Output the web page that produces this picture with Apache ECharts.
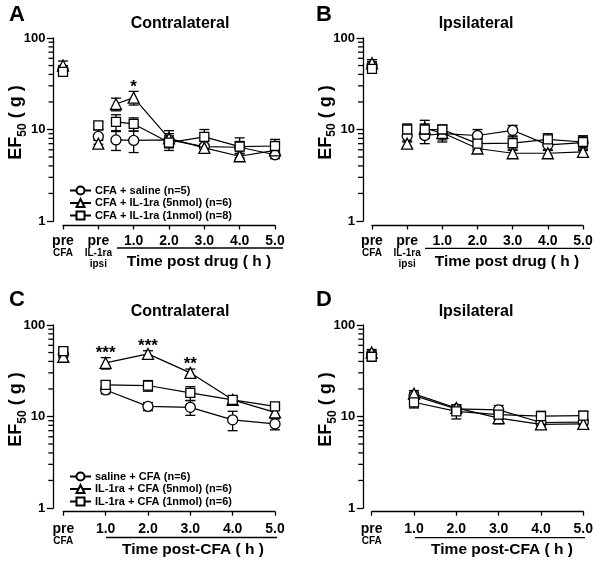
<!DOCTYPE html>
<html><head><meta charset="utf-8">
<script src="https://cdn.jsdelivr.net/npm/echarts@6/dist/echarts.min.js"></script>
<style>html,body{margin:0;padding:0;background:#fff}#c{width:600px;height:563px}</style>
</head><body><div id="c"></div>
<script>
// ================= DATA =================
// Panels A/B x positions: pre CFA = -1, pre IL-1ra ipsi = 0, then hours post drug
const xPosAB = [-1, 0, 0.5, 1, 2, 3, 4, 5];
// Panels C/D x positions: pre CFA = 0, then hours post CFA
const xPosCD = [0, 1, 2, 3, 4, 5];

const xTicksAB = [-1, 0, 1, 2, 3, 4, 5];
const xTickTextAB = ['pre\nCFA', 'pre\nIL-1ra\nipsi', '1.0', '2.0', '3.0', '4.0', '5.0'];
const xTicksCD = [0, 1, 2, 3, 4, 5];
const xTickTextCD = ['pre\nCFA', '1.0', '2.0', '3.0', '4.0', '5.0'];

const yMajorTicks = [1, 10, 100];
const yMinorTicks = [2, 3, 4, 5, 6, 7, 8, 9, 20, 30, 40, 50, 60, 70, 80, 90];

const namesAB = ['CFA + saline (n=5)', 'CFA + IL-1ra (5nmol) (n=6)', 'CFA + IL-1ra (1nmol) (n=8)'];
const namesCD = ['saline + CFA (n=6)', 'IL-1ra + CFA (5nmol) (n=6)', 'IL-1ra + CFA (1nmol) (n=6)'];

// Panel A - Contralateral (EF50, g)
const aSaline     = [45, 8.4, 7.7, 7.6, 7.7, 6.5, 6.4, 5.3];
const aSalineSem  = [5, 1.5, 1.8, 2.0, 1.3, 1.0, 1.0, 0.5];
const aIl5        = [50, 7.0, 19, 22.3, 8.0, 6.3, 5.1, 5.9];
const aIl5Sem     = [6, 0.6, 3, 3.8, 1.7, 0.6, 0.4, 0.8];
const aIl1        = [42.6, 11.1, 12.1, 11.5, 7.2, 8.3, 6.5, 6.6];
const aIl1Sem     = [4, 1.0, 2.4, 1.9, 1.3, 1.7, 1.6, 1.2];
const aSigIl5     = ['', '', '', '*', '', '', '', ''];

// Panel B - Ipsilateral
const bSaline     = [50, 8.5, 8.6, 9.0, 8.6, 9.8, 6.8, 7.2];
const bSalineSem  = [5, 1.2, 1.6, 1.3, 1.4, 1.3, 0.8, 1.3];
const bIl5        = [53, 7.0, 10.3, 9.2, 6.2, 5.5, 5.5, 5.7];
const bIl5Sem     = [5, 0.5, 2.3, 1.9, 0.4, 0.6, 0.4, 0.6];
const bIl1        = [46, 10.0, 10.0, 10.0, 7.0, 7.1, 7.8, 7.3];
const bIl1Sem     = [4, 1.5, 1.5, 1.1, 1.0, 1.2, 1.2, 1.2];

// Panel C - Contralateral
const cSaline     = [48, 19.5, 12.9, 12.6, 9.2, 8.3];
const cSalineSem  = [4, 1.8, 1.3, 2.3, 2.2, 1.15];
const cIl5        = [45, 38.5, 48.3, 30, 15.2, 11.1];
const cIl5Sem     = [4, 5.5, 4.0, 3.0, 1.2, 1.0];
const cIl1        = [51.7, 22.2, 21.8, 18.1, 15.2, 12.9];
const cIl1Sem     = [4, 2.1, 2.9, 3.1, 1.3, 1.1];
const cSigIl5     = ['', '***', '***', '**', '', ''];

// Panel D - Ipsilateral
const dSaline     = [48, 16.9, 12.1, 11.8, 8.6, 8.7];
const dSalineSem  = [4, 1.5, 1.2, 1.4, 0.6, 0.6];
const dIl5        = [50, 17.7, 12.4, 9.6, 8.2, 8.3];
const dIl5Sem     = [4, 1.5, 1.0, 1.3, 0.6, 1.0];
const dIl1        = [45, 14.3, 11.4, 10.5, 10.1, 10.2];
const dIl1Sem     = [4, 1.9, 2.0, 1.2, 1.3, 1.2];

// ================= STYLE / BUILD =================
const FONT = '"Liberation Sans", Arial, Helvetica, sans-serif';
const SYMBOLS = [
  {symbol: 'circle', size: 10},
  {symbol: 'triangle', size: 11},
  {symbol: 'rect', size: 9}
];

const panels = [
  {grid: {left: 63, top: 38, width: 212, height: 183}, yOff: 9.5, xOff: 4.5, xmin: -1, xmax: 5,
   x: xPosAB, nPre: 2, ticks: xTicksAB, tickText: xTickTextAB, labelMargin: 9, names: namesAB,
   groups: [[aSaline, aSalineSem], [aIl5, aIl5Sem], [aIl1, aIl1Sem]], sig: [null, aSigIl5, null]},
  {grid: {left: 372, top: 38, width: 211, height: 183}, yOff: 9, xOff: 4.5, xmin: -1, xmax: 5,
   x: xPosAB, nPre: 2, ticks: xTicksAB, tickText: xTickTextAB, labelMargin: 9, names: namesAB,
   groups: [[bSaline, bSalineSem], [bIl5, bIl5Sem], [bIl1, bIl1Sem]], sig: [null, null, null]},
  {grid: {left: 63.3, top: 325, width: 211.7, height: 183}, yOff: 10, xOff: 3.7, xmin: 0, xmax: 5,
   x: xPosCD, nPre: 1, ticks: xTicksCD, tickText: xTickTextCD, labelMargin: 11, names: namesCD,
   groups: [[cSaline, cSalineSem], [cIl5, cIl5Sem], [cIl1, cIl1Sem]], sig: [null, cSigIl5, null]},
  {grid: {left: 371.7, top: 325, width: 211.6, height: 183}, yOff: 8.4, xOff: 3.7, xmin: 0, xmax: 5,
   x: xPosCD, nPre: 1, ticks: xTicksCD, tickText: xTickTextCD, labelMargin: 11, names: namesCD,
   groups: [[dSaline, dSalineSem], [dIl5, dIl5Sem], [dIl1, dIl1Sem]], sig: [null, null, null]}
];

const grids = [], xAxes = [], yAxes = [], series = [];
const panelSeriesIndex = [];

function errRender(params, api) {
  const x = api.value(0), lo = api.value(1), hi = api.value(2);
  const pLo = api.coord([x, lo]), pHi = api.coord([x, hi]);
  const hw = 5, st = {stroke: '#000', lineWidth: 1.3};
  return {type: 'group', children: [
    {type: 'line', shape: {x1: pHi[0], y1: pHi[1], x2: pLo[0], y2: pLo[1]}, style: st},
    {type: 'line', shape: {x1: pHi[0] - hw, y1: pHi[1], x2: pHi[0] + hw, y2: pHi[1]}, style: st},
    {type: 'line', shape: {x1: pLo[0] - hw, y1: pLo[1], x2: pLo[0] + hw, y2: pLo[1]}, style: st}
  ]};
}

panels.forEach((p, idx) => {
  grids.push(Object.assign({containLabel: false}, p.grid));
  xAxes.push({
    gridIndex: idx, type: 'value', min: p.xmin, max: p.xmax, offset: p.xOff,
    axisLine: {onZero: false, lineStyle: {color: '#000', width: 1.3}},
    axisTick: {customValues: p.ticks, length: 4, lineStyle: {color: '#000', width: 1.3}},
    axisLabel: {
      customValues: p.ticks, margin: p.labelMargin, color: '#000',
      formatter: v => {
        const i = p.ticks.indexOf(v);
        if (i < 0) return '';
        const parts = p.tickText[i].split('\n');
        return parts.map((s, k) => (k === 0 ? '{a|' : '{b|') + s + '}').join('\n');
      },
      rich: {
        a: {fontFamily: FONT, fontWeight: 'bold', fontSize: 14, lineHeight: 13, color: '#000'},
        b: {fontFamily: FONT, fontWeight: 'bold', fontSize: 10, lineHeight: 11, color: '#000'}
      }
    },
    splitLine: {show: false}
  });
  yAxes.push({
    gridIndex: idx, type: 'log', logBase: 10, min: 1, max: 100, position: 'left', offset: p.yOff,
    axisLine: {show: true, onZero: false, lineStyle: {color: '#000', width: 1.3}},
    axisTick: {customValues: yMajorTicks, length: 6.5, lineStyle: {color: '#000', width: 1.3}},
    axisLabel: {customValues: yMajorTicks, margin: 8, color: '#000', fontFamily: FONT, fontWeight: 'bold', fontSize: 13},
    splitLine: {show: false},
    name: '{m|EF}{s|50}{m| ( g )}', nameLocation: 'middle', nameGap: 25, nameRotate: 90,
    nameMoveOverlap: false,
    nameTextStyle: {
      padding: [0, 0, 0, 14],
      rich: {
        m: {fontFamily: FONT, fontWeight: 'bold', fontSize: 18, lineHeight: 24, color: '#000', verticalAlign: 'middle'},
        s: {fontFamily: FONT, fontWeight: 'bold', fontSize: 12, lineHeight: 12, color: '#000', verticalAlign: 'bottom'}
      }
    }
  });

  p.groups.forEach((g, gi) => {
    const mean = g[0], sem = g[1];
    const sym = SYMBOLS[gi];
    const common = {
      xAxisIndex: idx, yAxisIndex: idx, symbol: sym.symbol, symbolSize: sym.size,
      itemStyle: {color: '#fff', borderColor: '#000', borderWidth: 1.3, opacity: 1}, clip: false
    };
    series.push({
      type: 'custom', name: 'err' + idx + '_' + gi, xAxisIndex: idx, yAxisIndex: idx,
      renderItem: errRender, encode: {x: 0, y: [1, 2]}, clip: false, z: 1, silent: true,
      data: p.x.map((xv, i) => [xv, mean[i] - sem[i], mean[i] + sem[i]])
    });
    series.push(Object.assign({
      type: 'scatter', name: 'pre' + idx + '_' + gi, z: 3 + gi,
      data: p.x.slice(0, p.nPre).map((xv, i) => [xv, mean[i]])
    }, common));
    if (gi === 0) panelSeriesIndex[idx] = series.length;
    series.push(Object.assign({
      type: 'line', name: p.names[gi], z: 3 + gi, showSymbol: true,
      lineStyle: {color: '#000', width: 1.2},
      data: p.x.slice(p.nPre).map((xv, i) => [xv, mean[i + p.nPre]])
    }, common));
    if (p.sig[gi]) {
      const sigArr = p.sig[gi];
      const pts = [];
      p.x.forEach((xv, i) => { if (sigArr[i]) pts.push({value: [xv, mean[i] + sem[i]], label: {formatter: sigArr[i]}}); });
      series.push({
        type: 'scatter', name: 'sig' + idx + '_' + gi, xAxisIndex: idx, yAxisIndex: idx,
        symbolSize: 0, silent: true, z: 6, clip: false,
        itemStyle: {opacity: 1},
        label: {show: true, position: 'top', distance: 0, offset: [0, 4], color: '#000', opacity: 1,
                fontFamily: FONT, fontWeight: 'bold', fontSize: 17},
        data: pts
      });
    }
  });
});

function txt(x, y, text, size) {
  return {type: 'text', x: x, y: y, style: {text: text, fill: '#000', font: 'bold ' + size + 'px ' + FONT,
          textAlign: 'center', textVerticalAlign: 'middle', align: 'center', verticalAlign: 'middle'}};
}
function hline(x1, x2, y) {
  return {type: 'line', shape: {x1: x1, y1: y, x2: x2, y2: y}, style: {stroke: '#000', lineWidth: 1.3}};
}

const graphics = [
  txt(17, 15, 'A', 22), txt(324, 15, 'B', 22), txt(17, 300, 'C', 22), txt(324, 300, 'D', 22),
  txt(180, 24, 'Contralateral', 16), txt(476, 24, 'Ipsilateral', 16),
  txt(180, 312, 'Contralateral', 16), txt(476, 312, 'Ipsilateral', 16),
  hline(117, 283, 248), hline(425, 590, 248.3), hline(106, 277, 537.5), hline(415, 585, 537.7),
  txt(199, 262, 'Time post drug ( h )', 15.5), txt(507, 262, 'Time post drug ( h )', 15.5),
  txt(193, 550, 'Time post-CFA ( h )', 15.5), txt(502, 550, 'Time post-CFA ( h )', 15.5)
];

const legendCommon = {orient: 'vertical', itemWidth: 21, itemHeight: 10, itemGap: 1.5, selectedMode: false,
  textStyle: {fontFamily: FONT, fontWeight: 'bold', fontSize: 11, color: '#000', padding: [0, 0, 0, -1]}};

const chart = echarts.init(document.getElementById('c'), null, {renderer: 'canvas'});
chart.setOption({
  backgroundColor: '#fff',
  animation: false,
  grid: grids, xAxis: xAxes, yAxis: yAxes, series: series,
  legend: [
    Object.assign({left: 64, top: 180, data: namesAB}, legendCommon),
    Object.assign({left: 64, top: 466, data: namesCD}, legendCommon)
  ],
  graphic: graphics
});

// Minor log ticks (2..9, 20..90): positions come from each panel's log y scale
function toPixel(idx, val) {
  const finders = [{seriesIndex: panelSeriesIndex[idx]}, {gridIndex: idx}, {xAxisIndex: idx, yAxisIndex: idx}];
  for (const f of finders) {
    try {
      const pt = chart.convertToPixel(f, val);
      if (pt && isFinite(pt[0]) && isFinite(pt[1])) return pt;
    } catch (e) { /* try next */ }
  }
  return null;
}
const minorTickLines = [];
panels.forEach((p, idx) => {
  yMinorTicks.forEach(v => {
    const pt = toPixel(idx, [p.xmin, v]);
    if (!pt) return;
    const ax = pt[0] - p.yOff;
    minorTickLines.push({type: 'line', z: 100, silent: true,
                         shape: {x1: ax - 5, y1: pt[1], x2: ax, y2: pt[1]},
                         style: {stroke: '#000', lineWidth: 1.3}});
  });
});
chart.setOption({graphic: graphics.concat(minorTickLines)});
</script></body></html>
